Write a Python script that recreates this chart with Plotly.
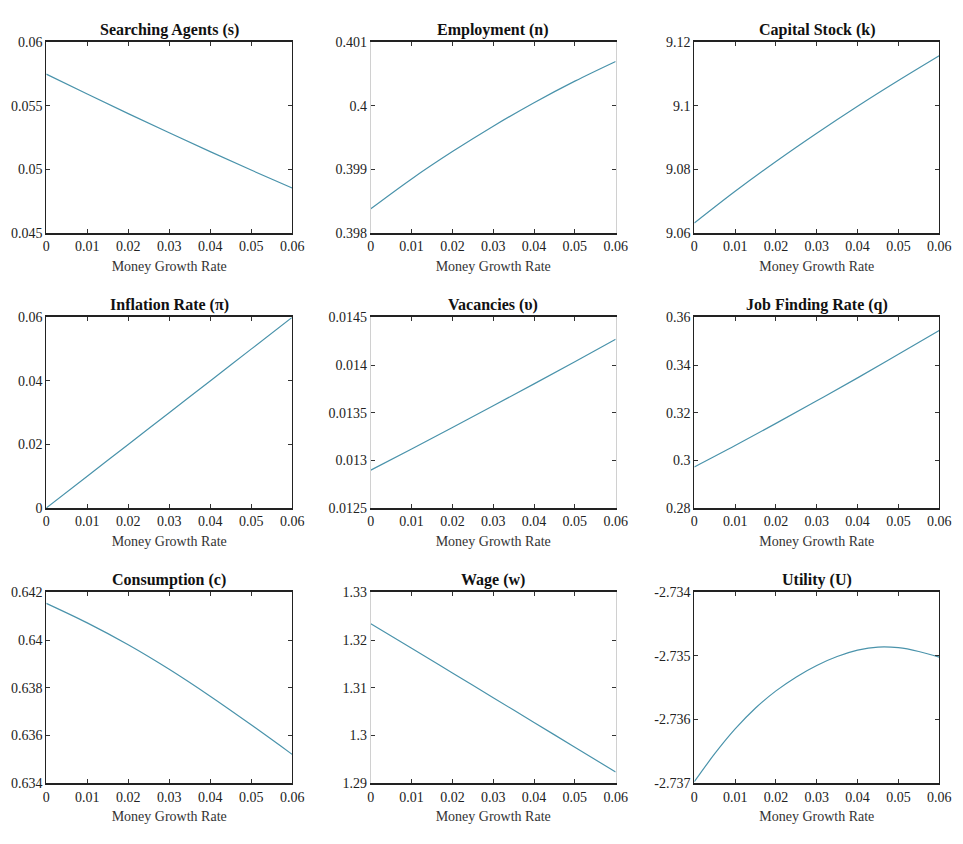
import plotly.graph_objects as go
from plotly.subplots import make_subplots

# Data
x_growth = [0.0, 0.01, 0.02, 0.03, 0.04, 0.05, 0.06]
x_fine = [0.0, 0.005, 0.01, 0.015, 0.02, 0.025, 0.03, 0.035, 0.04, 0.045, 0.05, 0.055, 0.06]

searching = [0.0575, 0.05593, 0.05439, 0.05288, 0.0514, 0.04995, 0.04853]
employment = [0.39838, 0.39885, 0.39928, 0.39968, 0.40005, 0.40039, 0.4007]
capital = [9.0631, 9.0731, 9.0825, 9.0914, 9.0999, 9.1080, 9.1158]
inflation = [0.0, 0.01, 0.02, 0.03, 0.04, 0.05, 0.06]
vacancies = [0.012897, 0.013119, 0.013344, 0.013572, 0.013802, 0.014035, 0.01427]
job_finding = [0.2972, 0.3062, 0.3155, 0.3250, 0.3346, 0.3445, 0.3545]
consumption = [0.64154, 0.64072, 0.6398, 0.63877, 0.63764, 0.63644, 0.6352]
wage = [1.3234, 1.3183, 1.3131, 1.3079, 1.3027, 1.2975, 1.2923]
utility = [-2.73698, -2.73654, -2.73615, -2.73582, -2.73555, -2.73533, -2.73515,
           -2.73501, -2.73491, -2.73486, -2.73487, -2.73493, -2.73502]

titles = ["Searching Agents (s)", "Employment (n)", "Capital Stock (k)",
          "Inflation Rate (\u03c0)", "Vacancies (\u03c5)", "Job Finding Rate (q)",
          "Consumption (c)", "Wage (w)", "Utility (U)"]

series = [(x_growth, searching), (x_growth, employment), (x_growth, capital),
          (x_growth, inflation), (x_growth, vacancies), (x_growth, job_finding),
          (x_growth, consumption), (x_growth, wage), (x_fine, utility)]

y_ranges = [[0.045, 0.06], [0.398, 0.401], [9.06, 9.12],
            [0, 0.06], [0.0125, 0.0145], [0.28, 0.36],
            [0.634, 0.642], [1.29, 1.33], [-2.737, -2.734]]
y_ticks = [[0.045, 0.05, 0.055, 0.06], [0.398, 0.399, 0.4, 0.401], [9.06, 9.08, 9.1, 9.12],
           [0, 0.02, 0.04, 0.06], [0.0125, 0.013, 0.0135, 0.014, 0.0145], [0.28, 0.3, 0.32, 0.34, 0.36],
           [0.634, 0.636, 0.638, 0.64, 0.642], [1.29, 1.3, 1.31, 1.32, 1.33], [-2.737, -2.736, -2.735, -2.734]]
y_ticktext = [["0.045", "0.05", "0.055", "0.06"], ["0.398", "0.399", "0.4", "0.401"],
              ["9.06", "9.08", "9.1", "9.12"], ["0", "0.02", "0.04", "0.06"],
              ["0.0125", "0.013", "0.0135", "0.014", "0.0145"], ["0.28", "0.3", "0.32", "0.34", "0.36"],
              ["0.634", "0.636", "0.638", "0.64", "0.642"], ["1.29", "1.3", "1.31", "1.32", "1.33"],
              ["-2.737", "-2.736", "-2.735", "-2.734"]]
x_ticks = [0, 0.01, 0.02, 0.03, 0.04, 0.05, 0.06]
x_ticktext = ["0", "0.01", "0.02", "0.03", "0.04", "0.05", "0.06"]

W, H = 963, 844
col_px = [(43, 293), (373, 622), (702, 951)]
row_px = [(36, 230), (316, 510), (596, 790)]

fig = make_subplots(rows=3, cols=3)
FONT = "Liberation Serif"
LINE_COLOR = "#4a93ab"

for i in range(9):
    r, c = divmod(i, 3)
    xs, ys = series[i]
    fig.add_trace(go.Scatter(x=xs, y=ys, mode="lines", line=dict(color=LINE_COLOR, width=1.2, shape="spline"),
                             showlegend=False), row=r + 1, col=c + 1)
    x0, x1 = col_px[c]
    y0, y1 = row_px[r]
    xd = [x0 / W, x1 / W]
    yd = [1 - y1 / H, 1 - y0 / H]
    ax = "" if i == 0 else str(i + 1)
    side_color = "#d0d0d0" if c == 1 else "#222"
    fig.layout["xaxis" + ax].update(
        domain=xd, range=[0, 0.06], tickvals=x_ticks, ticktext=x_ticktext,
        showline=True, linecolor="#222", linewidth=1.5, mirror="ticks", ticks="inside", ticklen=4,
        tickcolor="#333", showgrid=False, zeroline=False,
        tickfont=dict(family=FONT, size=14, color="#222"),
        title=dict(text="Money Growth Rate", font=dict(family=FONT, size=14, color="#333"), standoff=8))
    fig.layout["yaxis" + ax].update(
        domain=yd, range=y_ranges[i], tickvals=y_ticks[i], ticktext=y_ticktext[i],
        showline=True, linecolor=side_color, linewidth=1.2, mirror="ticks", ticks="inside", ticklen=4,
        tickcolor="#333", showgrid=False, zeroline=False,
        tickfont=dict(family=FONT, size=14, color="#222"))
    fig.add_annotation(text="<b>" + titles[i] + "</b>", x=(xd[0] + xd[1]) / 2, y=yd[1],
                       xref="paper", yref="paper", xanchor="center", yanchor="bottom", yshift=1,
                       showarrow=False, font=dict(family=FONT, size=16, color="#111"))

fig.update_layout(width=W, height=H, margin=dict(l=0, r=0, t=0, b=0),
                  paper_bgcolor="white", plot_bgcolor="white")

fig.write_html("out.html")
